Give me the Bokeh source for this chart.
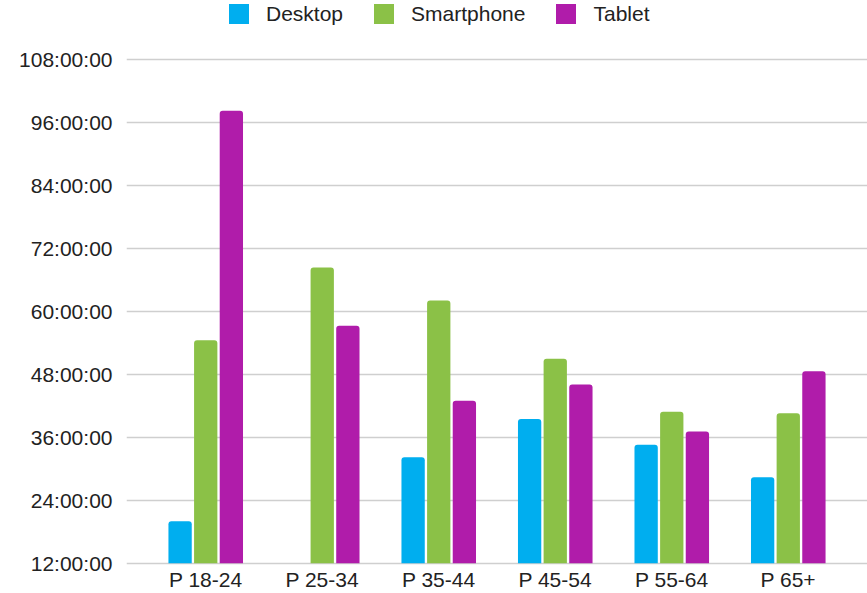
import numpy as np
from bokeh.plotting import figure
from bokeh.models import ColumnDataSource, FixedTicker, PrintfTickFormatter, Legend, LegendItem, Range1d
from bokeh.transform import dodge
from bokeh.embed import file_html
from bokeh.resources import INLINE

age_groups = ["P 18-24", "P 25-34", "P 35-44", "P 45-54", "P 55-64", "P 65+"]
desktop_hours = [20.0, np.nan, 32.2, 39.5, 34.6, 28.4]
smartphone_hours = [54.5, 68.4, 62.1, 51.0, 40.9, 40.6]
tablet_hours = [98.3, 57.3, 43.0, 46.1, 37.1, 48.6]
y_ticks = [12, 24, 36, 48, 60, 72, 84, 96, 108]
series_names = ["Desktop", "Smartphone", "Tablet"]
series_colors = ["#00AEEF", "#8BC147", "#B01CAA"]

positions = list(range(len(age_groups)))
src = ColumnDataSource(dict(
    x=positions,
    desktop=np.array(desktop_hours, dtype=float),
    smartphone=np.array(smartphone_hours, dtype=float),
    tablet=np.array(tablet_hours, dtype=float),
))

p = figure(width=867, height=593,
           x_range=Range1d(-0.68, 5.68), y_range=Range1d(11.18, 119.31),
           output_backend="svg", toolbar_location=None,
           min_border_left=126, min_border_right=0, min_border_top=0, min_border_bottom=10)

renderers = []
for col, off, color in zip(["desktop", "smartphone", "tablet"], [-0.22, 0.0, 0.22], series_colors):
    r = p.vbar(x=dodge("x", off, range=p.x_range), top=col, bottom=12, width=0.2,
               source=src, fill_color=color, line_color=None, border_radius=(3, 3, 0, 0))
    renderers.append(r)

p.xaxis.ticker = FixedTicker(ticks=positions)
p.xaxis.major_label_overrides = {i: lab for i, lab in zip(positions, age_groups)}
p.yaxis.ticker = FixedTicker(ticks=y_ticks)
p.yaxis.formatter = PrintfTickFormatter(format="%d:00:00")

for ax in (p.xaxis, p.yaxis):
    ax.axis_line_color = None
    ax.major_tick_line_color = None
    ax.minor_tick_line_color = None
    ax.major_tick_out = 0
    ax.major_tick_in = 0
    ax.major_label_text_font = "Liberation Sans"
    ax.major_label_text_font_size = "21px"
    ax.major_label_text_color = "#222222"
p.xaxis.major_label_standoff = 0
p.xaxis.major_label_text_line_height = 0.8
p.yaxis.major_label_standoff = 14

p.xgrid.visible = False
p.ygrid.grid_line_color = "#cfcfcf"
p.ygrid.grid_line_width = 1.5
p.outline_line_color = None

legend = Legend(
    items=[LegendItem(label=n, renderers=[r]) for n, r in zip(series_names, renderers)],
    orientation="horizontal", location=(100, 541),
    glyph_width=25, glyph_height=25, label_height=25, label_standoff=15, spacing=28,
    padding=0, margin=0, border_line_color=None, background_fill_alpha=0,
    label_text_font="Liberation Sans", label_text_font_size="21px", label_text_color="#222222",
)
p.add_layout(legend, "center")

open("out.html", "w").write(file_html(p, INLINE))
